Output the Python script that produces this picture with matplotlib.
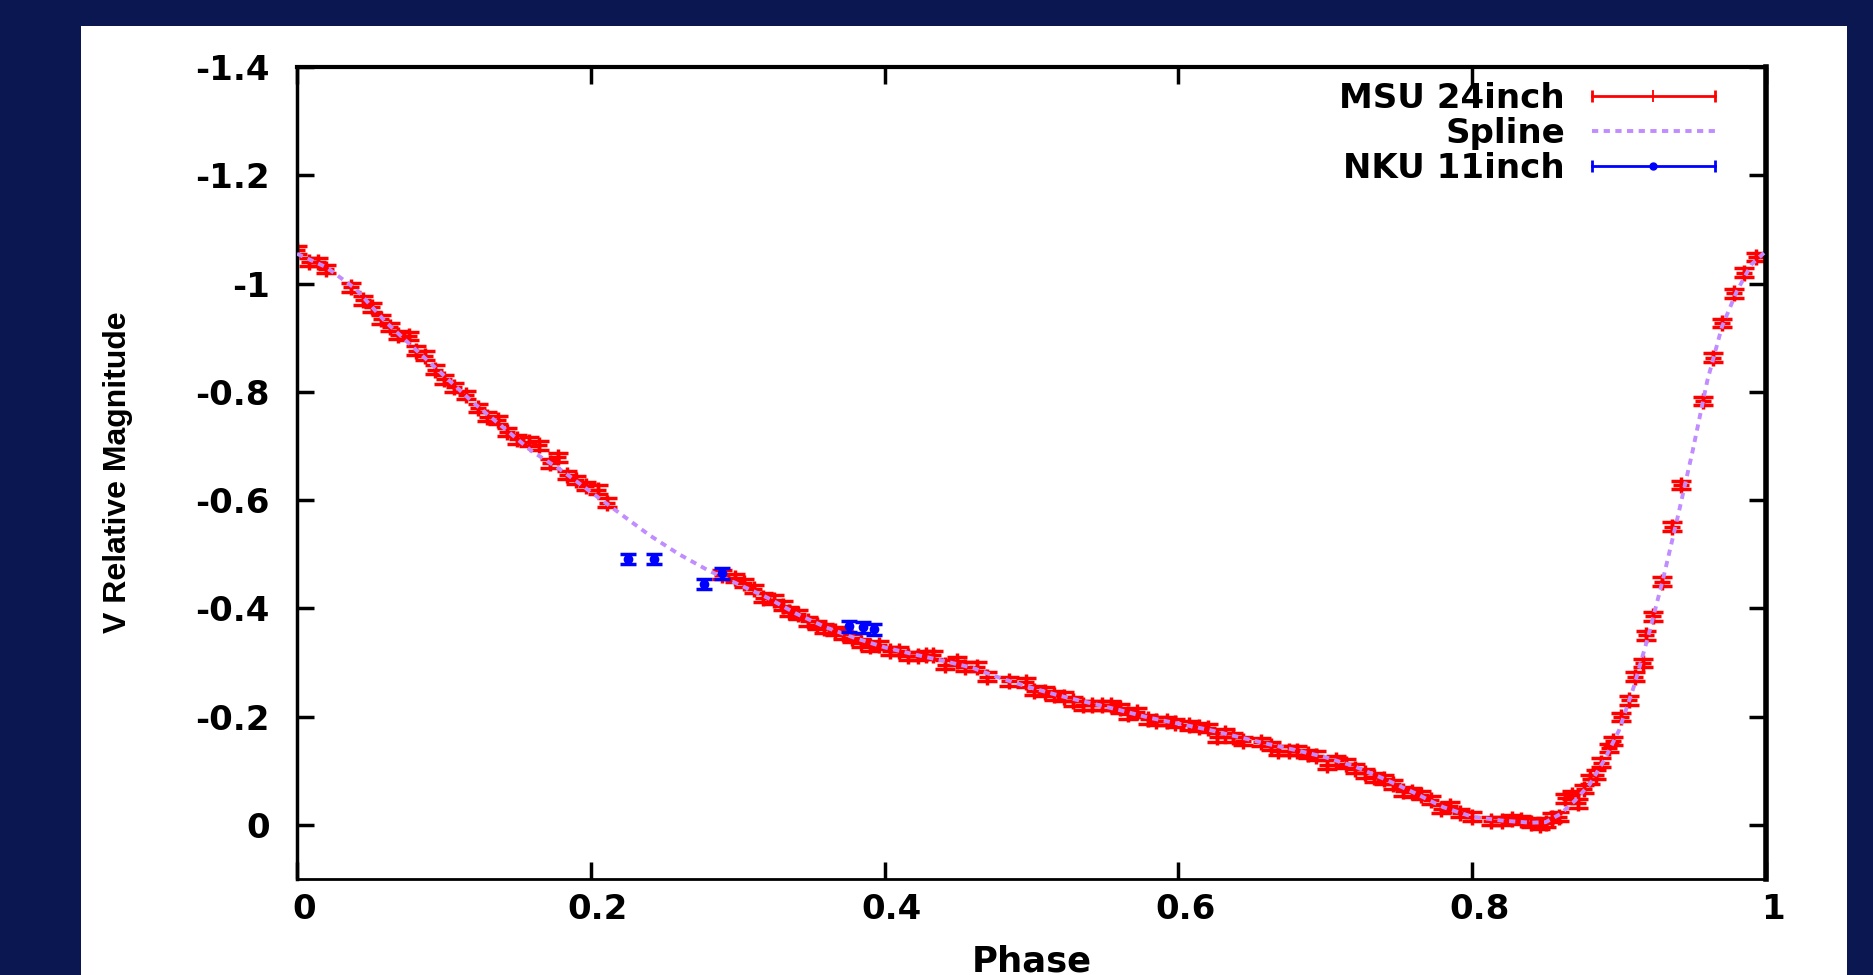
import matplotlib.pyplot as plt
from matplotlib.lines import Line2D
from matplotlib.legend_handler import HandlerLine2D
from matplotlib.patches import Rectangle
from matplotlib.ticker import FuncFormatter
from matplotlib.transforms import ScaledTranslation

plt.rcParams['font.family'] = 'DejaVu Sans'
plt.rcParams['font.weight'] = 'bold'
plt.rcParams['axes.unicode_minus'] = False

# MSU 24inch light curve (phase, V relative magnitude)
msu_phase = [0.000, 0.008, 0.014, 0.020, 0.037, 0.045, 0.051, 0.057, 0.063, 0.069,
             0.076, 0.081, 0.087, 0.094, 0.100, 0.107, 0.115, 0.123, 0.129, 0.137,
             0.143, 0.150, 0.158, 0.165, 0.172, 0.178, 0.184, 0.190, 0.197, 0.205,
             0.211, 0.289, 0.298, 0.304, 0.311, 0.317, 0.325, 0.331, 0.335, 0.341,
             0.348, 0.354, 0.359, 0.366, 0.372, 0.378, 0.384, 0.390, 0.396, 0.404,
             0.410, 0.416, 0.423, 0.428, 0.433, 0.441, 0.449, 0.455, 0.463, 0.470,
             0.485, 0.496, 0.502, 0.509, 0.515, 0.522, 0.528, 0.535, 0.541, 0.548,
             0.554, 0.560, 0.566, 0.572, 0.579, 0.585, 0.592, 0.598, 0.607, 0.614,
             0.620, 0.626, 0.632, 0.637, 0.644, 0.656, 0.663, 0.668, 0.675, 0.681,
             0.688, 0.694, 0.701, 0.707, 0.714, 0.720, 0.727, 0.733, 0.740, 0.746,
             0.753, 0.759, 0.765, 0.772, 0.779, 0.785, 0.792, 0.800, 0.813, 0.820,
             0.827, 0.833, 0.840, 0.846, 0.850, 0.854, 0.859, 0.863, 0.868, 0.872,
             0.876, 0.880, 0.884, 0.888, 0.893, 0.896, 0.901, 0.907, 0.911, 0.916,
             0.918, 0.923, 0.929, 0.936, 0.942, 0.957, 0.964, 0.970, 0.978, 0.985,
             0.993]
msu_mag = [-1.062, -1.040, -1.040, -1.027, -0.993, -0.969, -0.956, -0.934, -0.920, -0.905,
           -0.903, -0.876, -0.867, -0.841, -0.823, -0.808, -0.794, -0.770, -0.754, -0.748,
           -0.726, -0.712, -0.708, -0.701, -0.668, -0.679, -0.646, -0.637, -0.626, -0.619,
           -0.595, -0.462, -0.456, -0.447, -0.436, -0.420, -0.416, -0.405, -0.394, -0.389,
           -0.376, -0.369, -0.363, -0.358, -0.352, -0.345, -0.336, -0.330, -0.332, -0.321,
           -0.321, -0.312, -0.312, -0.314, -0.314, -0.296, -0.303, -0.292, -0.292, -0.274,
           -0.265, -0.263, -0.248, -0.246, -0.239, -0.237, -0.228, -0.221, -0.221, -0.221,
           -0.221, -0.215, -0.204, -0.208, -0.195, -0.192, -0.192, -0.188, -0.184, -0.181,
           -0.179, -0.162, -0.170, -0.162, -0.155, -0.153, -0.146, -0.137, -0.137, -0.137,
           -0.131, -0.128, -0.111, -0.119, -0.113, -0.104, -0.095, -0.088, -0.084, -0.075,
           -0.062, -0.060, -0.055, -0.046, -0.029, -0.035, -0.022, -0.015, -0.007, -0.007,
           -0.011, -0.009, -0.004, 0.000, -0.004, -0.013, -0.015, -0.049, -0.055, -0.040,
           -0.066, -0.084, -0.093, -0.115, -0.142, -0.155, -0.199, -0.230, -0.274, -0.299,
           -0.350, -0.385, -0.449, -0.551, -0.628, -0.783, -0.863, -0.927, -0.982, -1.020,
           -1.049]
msu_err = 0.008

# NKU 11inch points
nku_phase = [0.225, 0.243, 0.277, 0.289, 0.376, 0.385, 0.393]
nku_mag = [-0.491, -0.491, -0.445, -0.465, -0.367, -0.365, -0.361]
nku_err = 0.01

# spline fit
spline_phase = [0.00, 0.02, 0.04, 0.06, 0.08, 0.10, 0.12, 0.14, 0.16, 0.18,
                0.20, 0.22, 0.24, 0.26, 0.28, 0.30, 0.32, 0.34, 0.36, 0.38,
                0.40, 0.42, 0.44, 0.46, 0.48, 0.50, 0.52, 0.54, 0.56, 0.58,
                0.60, 0.62, 0.64, 0.66, 0.68, 0.70, 0.72, 0.74, 0.76, 0.78,
                0.80, 0.82, 0.84, 0.85, 0.86, 0.87, 0.88, 0.89, 0.90, 0.91,
                0.92, 0.93, 0.94, 0.95, 0.96, 0.97, 0.98, 0.99, 1.00]
spline_mag = [-1.055, -1.030, -0.990, -0.930, -0.880, -0.830, -0.780, -0.735, -0.690, -0.655,
              -0.615, -0.575, -0.535, -0.500, -0.470, -0.445, -0.420, -0.390, -0.365, -0.345,
              -0.328, -0.315, -0.303, -0.290, -0.270, -0.253, -0.238, -0.225, -0.212, -0.198,
              -0.187, -0.176, -0.163, -0.150, -0.138, -0.125, -0.108, -0.085, -0.060, -0.033,
              -0.015, -0.008, -0.004, -0.005, -0.020, -0.045, -0.075, -0.120, -0.175, -0.255,
              -0.350, -0.455, -0.570, -0.690, -0.820, -0.920, -0.985, -1.035, -1.060]

x_ticks = [0, 0.2, 0.4, 0.6, 0.8, 1.0]
y_ticks = [-1.4, -1.2, -1.0, -0.8, -0.6, -0.4, -0.2, 0.0]

W, H = 1873, 975
fig = plt.figure(figsize=(W / 100, H / 100), dpi=100, facecolor='#0b1751')
fig.add_artist(Rectangle((81 / W, 0), 1766 / W, 949 / H, transform=fig.transFigure,
                         facecolor='white', edgecolor='none', zorder=0))
ax = fig.add_axes([297 / W, 96 / H, 1469 / W, 812 / H])

spline_col = '#c08cff'
ax.errorbar(msu_phase, msu_mag, yerr=msu_err, fmt='+', color='red', ms=12, mew=2.5,
            elinewidth=2.5, capsize=7, capthick=2.5, zorder=2)
ax.plot(spline_phase, spline_mag, color=spline_col, lw=2.8, ls=(0, (1.6, 1.4)), zorder=3)
ax.errorbar(nku_phase, nku_mag, yerr=nku_err, fmt='o', color='blue', ms=6,
            elinewidth=2.5, capsize=6, capthick=2.5, zorder=4)

ax.set_xlim(0, 1)
ax.set_ylim(0.1, -1.4)
ax.set_xticks(x_ticks)
ax.set_yticks(y_ticks)
fmt = FuncFormatter(lambda v, p: f'{round(v, 6) + 0.0:g}')
ax.xaxis.set_major_formatter(fmt)
ax.yaxis.set_major_formatter(fmt)
ax.tick_params(direction='in', length=12, width=2.5, top=True, right=True,
               labelsize=24.5)
ax.tick_params(axis='x', pad=10)
ax.tick_params(axis='y', pad=19.5)
for t in ax.xaxis.get_major_ticks():
    t.label1.set_transform(t.label1.get_transform() +
                           ScaledTranslation(0.07, 0, fig.dpi_scale_trans))

ax.spines['left'].set_linewidth(2.5)
ax.spines['bottom'].set_linewidth(2)
ax.spines['top'].set_linewidth(3)
ax.spines['right'].set_linewidth(4)

ax.set_xlabel('Phase', fontsize=25.5, fontweight='bold', va='baseline')
ax.xaxis.set_label_coords(0.5, (879 - 971) / 812)
ax.set_ylabel('V Relative Magnitude', fontsize=23, family='Liberation Sans',
              fontweight='bold', va='center')
ax.yaxis.set_label_coords((118 - 297) / 1469, 0.501)

# gnuplot-style key: label on the left, sample on the right
msu_line = Line2D([], [], color='red', lw=2, marker='|', ms=9, mew=2)
msu_mid = Line2D([], [], color='red', ls='none', marker='|', ms=9, mew=1.3)
spl_line = Line2D([], [], color=spline_col, lw=2.8, ls=(0, (1.6, 1.4)))
nku_line = Line2D([], [], color='blue', lw=2, marker='|', ms=9, mew=2)
nku_mid = Line2D([], [], color='blue', ls='none', marker='o', ms=5)
ax.legend([(msu_line, msu_mid), spl_line, (nku_line, nku_mid)],
          ['MSU 24inch', 'Spline', 'NKU 11inch'],
          handler_map={msu_mid: HandlerLine2D(numpoints=1),
                       nku_mid: HandlerLine2D(numpoints=1)},
          loc='upper right', bbox_to_anchor=(0.972, 0.982), frameon=False,
          markerfirst=False, numpoints=2, handlelength=4.2, handletextpad=0.5,
          labelspacing=0.06, borderpad=0, borderaxespad=0, fontsize=24.5)

fig.savefig('out.png', dpi=100, facecolor=fig.get_facecolor())
